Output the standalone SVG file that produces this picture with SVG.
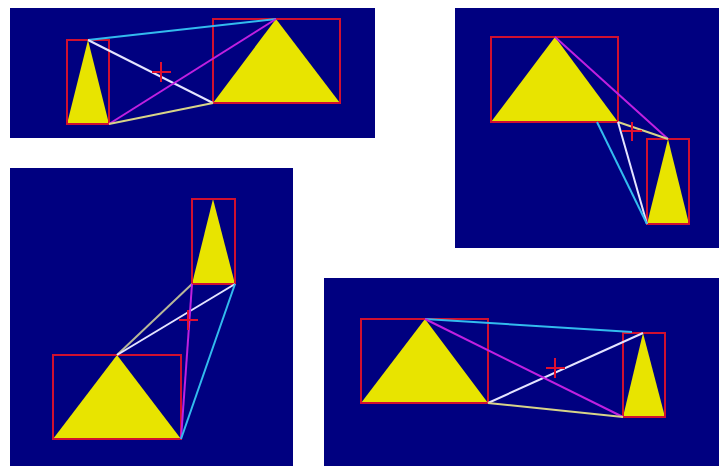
<svg xmlns="http://www.w3.org/2000/svg" width="719" height="466" viewBox="0 0 719 466">
<style>
.bg{fill:#000080}
.box{fill:none;stroke:#d01030;stroke-width:2}
.tri{fill:#e8e400;stroke:none}
.c{stroke:#33bbee;stroke-width:2;fill:none}
.w{stroke:#e4e4ff;stroke-width:2;fill:none}
.m{stroke:#c020e0;stroke-width:2;fill:none}
.y{stroke:#d8d488;stroke-width:2;fill:none}
.x{stroke:#e01030;stroke-width:2;fill:none}
</style>
<rect width="719" height="466" fill="#ffffff"/>
<g id="panel1">
<rect class="bg" x="10" y="8" width="365" height="130"/>
<g id="p1-small"><polygon class="tri" points="88,40 67,124 109,124"/><rect class="box" x="67" y="40" width="42" height="84"/></g>
<g id="p1-large"><polygon class="tri" points="276,19 213,103 340,103"/><rect class="box" x="213" y="19" width="127" height="84"/></g>
<g id="p1-connectors">
<line class="c" x1="88" y1="40" x2="276" y2="19"/>
<line class="w" x1="88" y1="40" x2="213" y2="103"/>
<line class="m" x1="109" y1="124" x2="276" y2="19"/>
<line class="y" x1="109" y1="124" x2="213" y2="103"/>
<path class="x" d="M152,72H171M161,62V82"/>
</g>
</g>
<g id="panel2">
<rect class="bg" x="455" y="8" width="264" height="240"/>
<g id="p2-large"><polygon class="tri" points="555,37 491,122 618,122"/><rect class="box" x="491" y="37" width="127" height="85"/></g>
<g id="p2-small"><polygon class="tri" points="668,139 647,224 689,224"/><rect class="box" x="647" y="139" width="42" height="85"/></g>
<g id="p2-connectors">
<line class="m" x1="555" y1="37" x2="668" y2="139"/>
<line class="y" x1="618" y1="122" x2="668" y2="139"/>
<line class="w" x1="618" y1="122" x2="647" y2="224"/>
<line class="c" x1="597" y1="122" x2="647" y2="224"/>
<path class="x" d="M622,131H642M632,122V141"/>
</g>
</g>
<g id="panel3">
<rect class="bg" x="10" y="168" width="283" height="298"/>
<g id="p3-small"><polygon class="tri" points="213,199 192,284 235,284"/><rect class="box" x="192" y="199" width="43" height="85"/></g>
<g id="p3-large"><polygon class="tri" points="117,355 53,439 181,439"/><rect class="box" x="53" y="355" width="128" height="84"/></g>
<g id="p3-connectors">
<line class="y" x1="117" y1="355" x2="192" y2="284" style="stroke:#b8b898"/>
<line class="w" x1="117" y1="355" x2="235" y2="284"/>
<line class="m" x1="192" y1="284" x2="181" y2="439"/>
<line class="c" x1="235" y1="284" x2="181" y2="439"/>
<path class="x" d="M179,320H198M188,310V330"/>
</g>
</g>
<g id="panel4">
<rect class="bg" x="324" y="278" width="395" height="188"/>
<g id="p4-large"><polygon class="tri" points="425,319 361,403 488,403"/><rect class="box" x="361" y="319" width="127" height="84"/></g>
<g id="p4-small"><polygon class="tri" points="643,333 623,417 665,417"/><rect class="box" x="623" y="333" width="42" height="84"/></g>
<g id="p4-connectors">
<line class="c" x1="425" y1="319" x2="632" y2="332"/>
<line class="w" x1="488" y1="403" x2="643" y2="333"/>
<line class="m" x1="425" y1="319" x2="623" y2="417"/>
<line class="y" x1="488" y1="403" x2="623" y2="417"/>
<path class="x" d="M546,368H565M555,358V378"/>
</g>
</g>
</svg>
